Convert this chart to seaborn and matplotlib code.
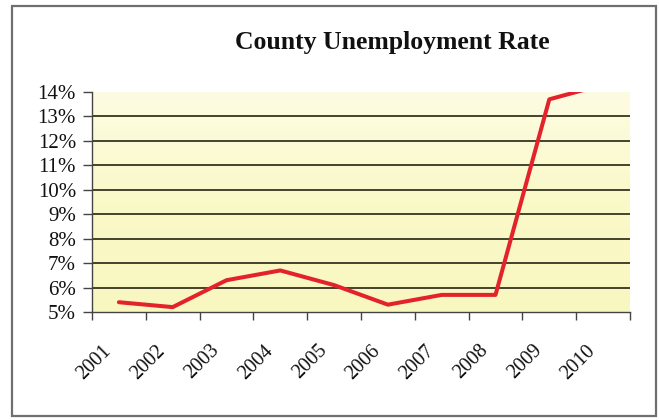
import numpy as np
import pandas as pd
import matplotlib
matplotlib.use("Agg")
import matplotlib.pyplot as plt
import seaborn as sns
from matplotlib.patches import Rectangle
from matplotlib.colors import LinearSegmentedColormap
from matplotlib.transforms import ScaledTranslation

years = ["2001", "2002", "2003", "2004", "2005", "2006", "2007", "2008", "2009", "2010"]
rates = [5.4, 5.2, 6.3, 6.7, 6.1, 5.3, 5.7, 5.7, 13.7, 14.3]
y_ticks = [5, 6, 7, 8, 9, 10, 11, 12, 13, 14]
title = "County Unemployment Rate"

sns.set_theme(style="white")
plt.rcParams["font.family"] = ["Liberation Serif", "DejaVu Serif"]

fig = plt.figure(figsize=(6.59, 4.20), dpi=100)
ax = fig.add_axes([92/659, 1-312/420, (630-92)/659, (312-92)/420])

df = pd.DataFrame({"pos": np.arange(len(years)), "rate": rates})

# gradient background
grad = np.linspace(0, 1, 256).reshape(-1, 1)
cmap = LinearSegmentedColormap.from_list("bg", ["#F9F7C0", "#FAF9C8", "#FDFCE2"])
ax.imshow(grad, extent=[-0.5, 9.5, 5, 14], aspect="auto", cmap=cmap, origin="lower", zorder=0)

for v in y_ticks[1:-1]:
    ax.axhline(v, color="#35341f", lw=1.3, zorder=1)

sns.lineplot(data=df, x="pos", y="rate", color="#E3222B", lw=2.9, ax=ax, zorder=3)

ax.set_xlim(-0.5, 9.5)
ax.set_ylim(5, 14)
ax.set_yticks(y_ticks)
ax.set_yticklabels([f"{v}%" for v in y_ticks], fontsize=15, color="#111111")
ax.set_xticks(np.arange(len(years)))
ax.set_xticklabels(years, rotation=45, ha="right", va="top", rotation_mode="anchor", fontsize=14.5, color="#111111")
ax.set_xticks(np.arange(-0.5, 10, 1), minor=True)
ax.tick_params(axis="x", which="major", length=0, pad=21)
ax.tick_params(axis="x", which="minor", length=6, width=1, color="#444444", direction="out", bottom=True)
ax.tick_params(axis="y", length=6.5, width=1, color="#444444", direction="out", left=True, pad=5)
off = ScaledTranslation(-17/100, 0, fig.dpi_scale_trans)
for lab in ax.get_xticklabels():
    lab.set_transform(lab.get_transform() + off)
ax.set_xlabel("")
ax.set_ylabel("")
for s in ["top", "right"]:
    ax.spines[s].set_visible(False)
for s in ["left", "bottom"]:
    ax.spines[s].set_color("#444444")
    ax.spines[s].set_linewidth(1)

fig.text(392/659, 1-43/420, title, ha="center", va="center", fontsize=18.5, fontweight="bold", color="#111111")

fig.patches.append(Rectangle((12/659, 1-416/420), (656-12)/659, (416-6)/420,
                             transform=fig.transFigure, fill=False, ec="#6f6f6f", lw=1.6))

fig.savefig("out.png", dpi=100)
